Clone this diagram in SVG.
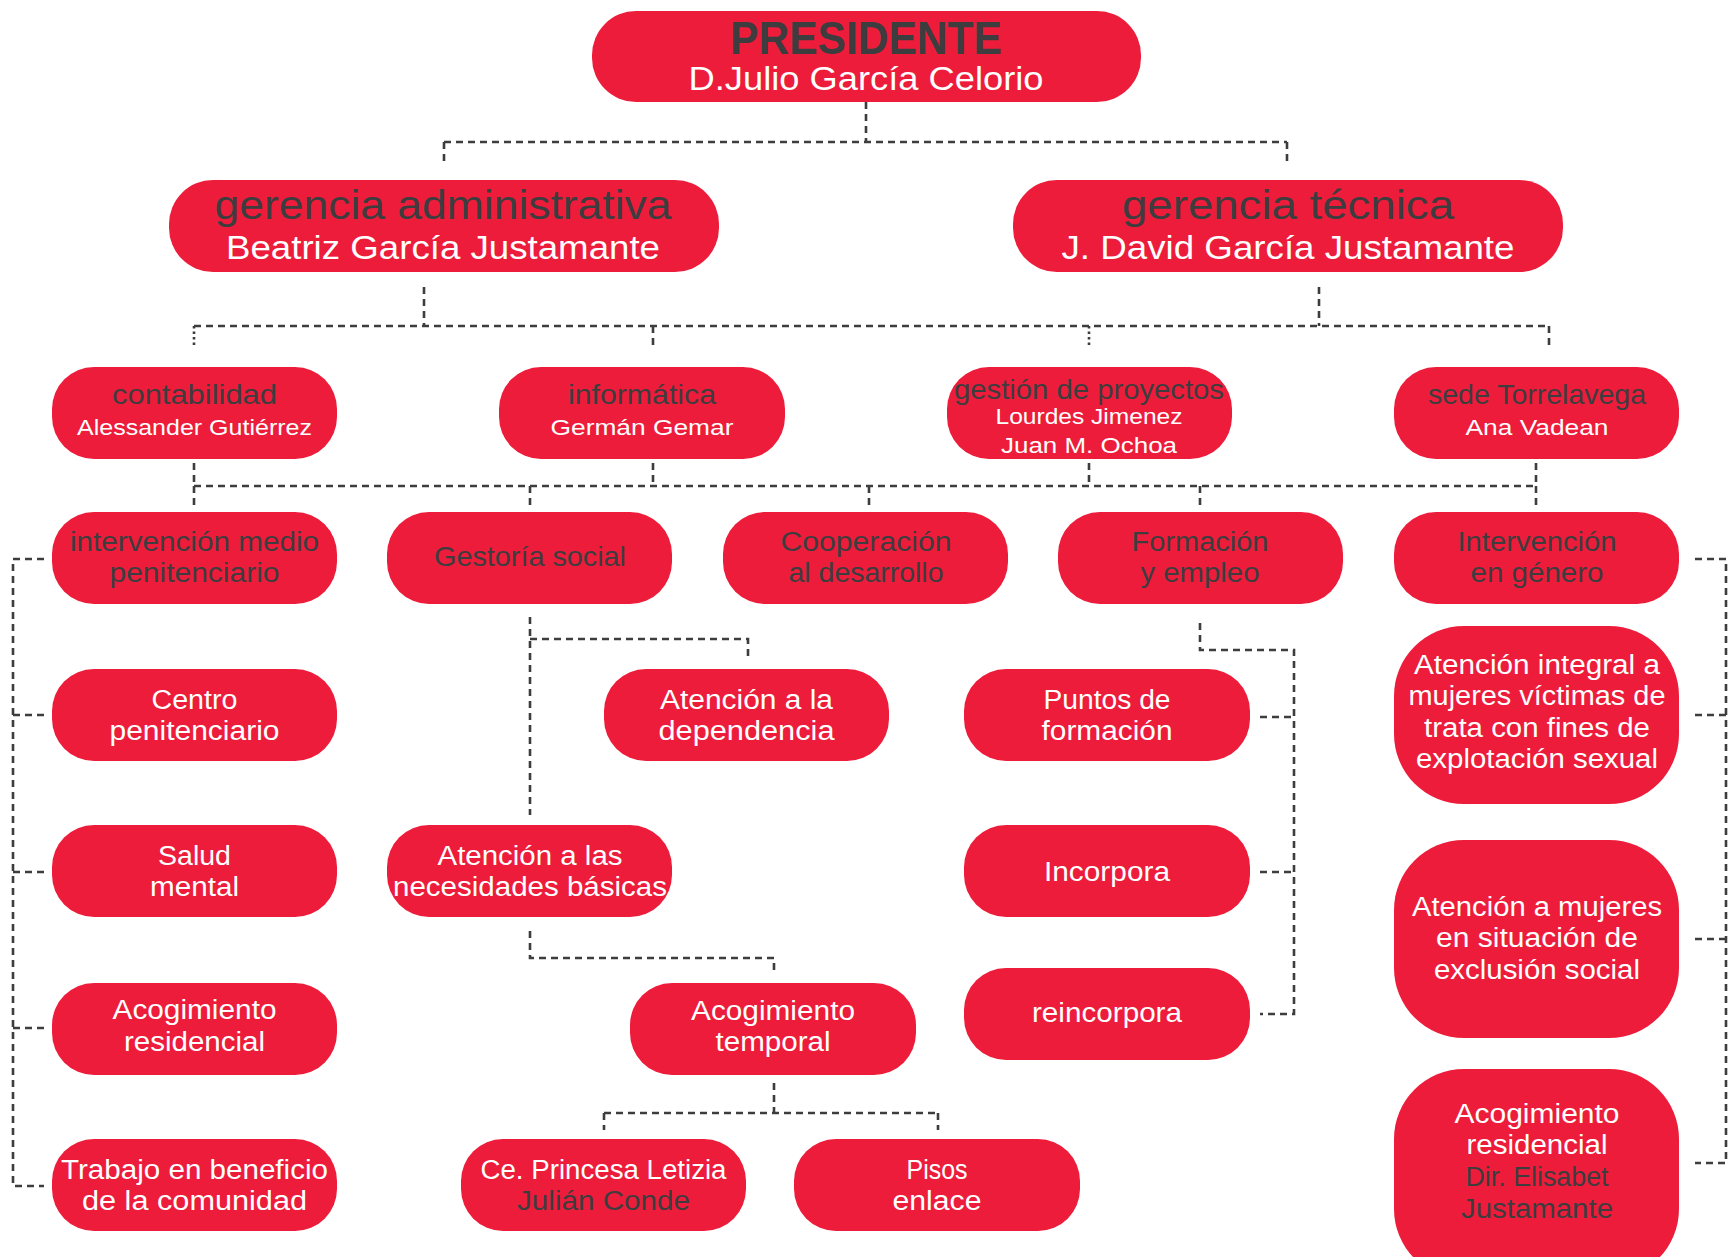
<svg xmlns="http://www.w3.org/2000/svg" width="1728" height="1257" viewBox="0 0 1728 1257">
<style>
.n{fill:#ED1C3A}
text{font-family:"Liberation Sans","Noto Sans",sans-serif;text-anchor:middle}
.d{fill:#3d3d3f}
.w{fill:#ffffff}
.c{fill:none;stroke:#3d3d3f;stroke-width:2.6;stroke-dasharray:7 5}
.c2{fill:none;stroke:#3d3d3f;stroke-width:2.6;stroke-dasharray:2.5 3}
</style>
<rect width="1728" height="1257" fill="#fff"/>
<g id="connectors">
<path class="c" d="M866 102V142M444 142H1287M444 142V165M1287 142V165"/>
<path class="c" d="M424 287V326M1319 287V326M194 326H1549M653 326V347M1549 326V347"/>
<path class="c2" d="M194 326V347M1089 326V347"/>
<path class="c" d="M194 463V486M653 463V486M1089 463V486M1536 463V486M194 486H1536M194 486V509M530 486V509M869 486V509M1200 486V509M1536 486V509"/>
<path class="c" d="M44 559H13V1186H44M13 715H44M13 872H44M13 1028H44"/>
<path class="c" d="M530 617V815M530 639H748V661M530 931V958H774V975M774 1083V1113M604 1113H938M604 1113V1130M938 1113V1130"/>
<path class="c" d="M1200 623V650H1294V1014H1260M1260 717H1294M1260 872H1294"/>
<path class="c" d="M1695 559H1726V1163H1695M1695 715H1726M1695 939H1726"/>
</g>
<g id="presidente"><rect class="n" x="592" y="11" width="549" height="91" rx="44"/>
<text class="d" x="866" y="54" font-size="47" font-weight="bold" textLength="272" lengthAdjust="spacingAndGlyphs">PRESIDENTE</text>
<text class="w" x="866" y="90" font-size="33" textLength="355" lengthAdjust="spacingAndGlyphs">D.Julio García Celorio</text></g>
<g id="gerencia-admin"><rect class="n" x="169" y="180" width="550" height="92" rx="44"/>
<text class="d" x="443" y="219" font-size="41" textLength="457" lengthAdjust="spacingAndGlyphs">gerencia administrativa</text>
<text class="w" x="443" y="259" font-size="34" textLength="434" lengthAdjust="spacingAndGlyphs">Beatriz García Justamante</text></g>
<g id="gerencia-tecnica"><rect class="n" x="1013" y="180" width="550" height="92" rx="44"/>
<text class="d" x="1288" y="219" font-size="41" textLength="332" lengthAdjust="spacingAndGlyphs">gerencia técnica</text>
<text class="w" x="1288" y="259" font-size="34" textLength="453" lengthAdjust="spacingAndGlyphs">J. David García Justamante</text></g>
<g id="contabilidad"><rect class="n" x="52" y="367" width="285" height="92" rx="42"/>
<text class="d" x="194.5" y="404" font-size="28" textLength="165" lengthAdjust="spacingAndGlyphs">contabilidad</text>
<text class="w" x="194.5" y="435" font-size="22" textLength="235" lengthAdjust="spacingAndGlyphs">Alessander Gutiérrez</text></g>
<g id="informatica"><rect class="n" x="499" y="367" width="286" height="92" rx="42"/>
<text class="d" x="642" y="404" font-size="28" textLength="148" lengthAdjust="spacingAndGlyphs">informática</text>
<text class="w" x="642" y="435" font-size="22" textLength="183" lengthAdjust="spacingAndGlyphs">Germán Gemar</text></g>
<g id="gestion-proyectos"><rect class="n" x="947" y="367" width="285" height="92" rx="42"/>
<text class="d" x="1089" y="399" font-size="28" textLength="270" lengthAdjust="spacingAndGlyphs">gestión de proyectos</text>
<text class="w" x="1089" y="424" font-size="22" textLength="187" lengthAdjust="spacingAndGlyphs">Lourdes Jimenez</text>
<text class="w" x="1089" y="453" font-size="22" textLength="176" lengthAdjust="spacingAndGlyphs">Juan M. Ochoa</text></g>
<g id="sede-torrelavega"><rect class="n" x="1394" y="367" width="285" height="92" rx="42"/>
<text class="d" x="1537" y="404" font-size="28" textLength="218" lengthAdjust="spacingAndGlyphs">sede Torrelavega</text>
<text class="w" x="1537" y="435" font-size="22" textLength="143" lengthAdjust="spacingAndGlyphs">Ana Vadean</text></g>
<g id="intervencion-medio"><rect class="n" x="52" y="512" width="285" height="92" rx="42"/>
<text class="d" x="194.5" y="551" font-size="27" textLength="249" lengthAdjust="spacingAndGlyphs">intervención medio</text>
<text class="d" x="194.5" y="582" font-size="27" textLength="170" lengthAdjust="spacingAndGlyphs">penitenciario</text></g>
<g id="gestoria-social"><rect class="n" x="387" y="512" width="285" height="92" rx="42"/>
<text class="d" x="530" y="566" font-size="28" textLength="192" lengthAdjust="spacingAndGlyphs">Gestoría social</text></g>
<g id="cooperacion"><rect class="n" x="723" y="512" width="285" height="92" rx="42"/>
<text class="d" x="866" y="551" font-size="27" textLength="171" lengthAdjust="spacingAndGlyphs">Cooperación</text>
<text class="d" x="866" y="582" font-size="27" textLength="155" lengthAdjust="spacingAndGlyphs">al desarrollo</text></g>
<g id="formacion-empleo"><rect class="n" x="1058" y="512" width="285" height="92" rx="42"/>
<text class="d" x="1200" y="551" font-size="27" textLength="137" lengthAdjust="spacingAndGlyphs">Formación</text>
<text class="d" x="1200" y="582" font-size="27" textLength="119" lengthAdjust="spacingAndGlyphs">y empleo</text></g>
<g id="intervencion-genero"><rect class="n" x="1394" y="512" width="285" height="92" rx="42"/>
<text class="d" x="1537" y="551" font-size="27" textLength="159" lengthAdjust="spacingAndGlyphs">Intervención</text>
<text class="d" x="1537" y="582" font-size="27" textLength="133" lengthAdjust="spacingAndGlyphs">en género</text></g>
<g id="centro-penitenciario"><rect class="n" x="52" y="669" width="285" height="92" rx="42"/>
<text class="w" x="194.5" y="709" font-size="27" textLength="86" lengthAdjust="spacingAndGlyphs">Centro</text>
<text class="w" x="194.5" y="740" font-size="27" textLength="170" lengthAdjust="spacingAndGlyphs">penitenciario</text></g>
<g id="salud-mental"><rect class="n" x="52" y="825" width="285" height="92" rx="42"/>
<text class="w" x="194.5" y="865" font-size="27" textLength="73" lengthAdjust="spacingAndGlyphs">Salud</text>
<text class="w" x="194.5" y="896" font-size="27" textLength="89" lengthAdjust="spacingAndGlyphs">mental</text></g>
<g id="acogimiento-residencial"><rect class="n" x="52" y="983" width="285" height="92" rx="42"/>
<text class="w" x="194.5" y="1019" font-size="27" textLength="164" lengthAdjust="spacingAndGlyphs">Acogimiento</text>
<text class="w" x="194.5" y="1051" font-size="27" textLength="141" lengthAdjust="spacingAndGlyphs">residencial</text></g>
<g id="trabajo-beneficio"><rect class="n" x="52" y="1139" width="285" height="92" rx="42"/>
<text class="w" x="194.5" y="1179" font-size="27" textLength="267" lengthAdjust="spacingAndGlyphs">Trabajo en beneficio</text>
<text class="w" x="194.5" y="1210" font-size="27" textLength="225" lengthAdjust="spacingAndGlyphs">de la comunidad</text></g>
<g id="atencion-dependencia"><rect class="n" x="604" y="669" width="285" height="92" rx="42"/>
<text class="w" x="746.5" y="709" font-size="27" textLength="173" lengthAdjust="spacingAndGlyphs">Atención a la</text>
<text class="w" x="746.5" y="740" font-size="27" textLength="176" lengthAdjust="spacingAndGlyphs">dependencia</text></g>
<g id="necesidades-basicas"><rect class="n" x="387" y="825" width="285" height="92" rx="42"/>
<text class="w" x="530" y="865" font-size="27" textLength="185" lengthAdjust="spacingAndGlyphs">Atención a las</text>
<text class="w" x="530" y="896" font-size="27" textLength="274" lengthAdjust="spacingAndGlyphs">necesidades básicas</text></g>
<g id="acogimiento-temporal"><rect class="n" x="630" y="983" width="286" height="92" rx="42"/>
<text class="w" x="773" y="1020" font-size="27" textLength="164" lengthAdjust="spacingAndGlyphs">Acogimiento</text>
<text class="w" x="773" y="1051" font-size="27" textLength="115" lengthAdjust="spacingAndGlyphs">temporal</text></g>
<g id="princesa-letizia"><rect class="n" x="461" y="1139" width="285" height="92" rx="42"/>
<text class="w" x="603.5" y="1179" font-size="27" textLength="246" lengthAdjust="spacingAndGlyphs">Ce. Princesa Letizia</text>
<text class="d" x="603.5" y="1210" font-size="27" textLength="173" lengthAdjust="spacingAndGlyphs">Julián Conde</text></g>
<g id="pisos-enlace"><rect class="n" x="794" y="1139" width="286" height="92" rx="42"/>
<text class="w" x="937" y="1179" font-size="27" textLength="61" lengthAdjust="spacingAndGlyphs">Pisos</text>
<text class="w" x="937" y="1210" font-size="27" textLength="89" lengthAdjust="spacingAndGlyphs">enlace</text></g>
<g id="puntos-formacion"><rect class="n" x="964" y="669" width="286" height="92" rx="42"/>
<text class="w" x="1107" y="709" font-size="27" textLength="127" lengthAdjust="spacingAndGlyphs">Puntos de</text>
<text class="w" x="1107" y="740" font-size="27" textLength="131" lengthAdjust="spacingAndGlyphs">formación</text></g>
<g id="incorpora"><rect class="n" x="964" y="825" width="286" height="92" rx="42"/>
<text class="w" x="1107" y="881" font-size="28" textLength="126" lengthAdjust="spacingAndGlyphs">Incorpora</text></g>
<g id="reincorpora"><rect class="n" x="964" y="968" width="286" height="92" rx="42"/>
<text class="w" x="1107" y="1022" font-size="28" textLength="150" lengthAdjust="spacingAndGlyphs">reincorpora</text></g>
<g id="atencion-integral"><rect class="n" x="1394" y="626" width="285" height="178" rx="70"/>
<text class="w" x="1537" y="674" font-size="27" textLength="246" lengthAdjust="spacingAndGlyphs">Atención integral a</text>
<text class="w" x="1537" y="705" font-size="27" textLength="257" lengthAdjust="spacingAndGlyphs">mujeres víctimas de</text>
<text class="w" x="1537" y="737" font-size="27" textLength="226" lengthAdjust="spacingAndGlyphs">trata con fines de</text>
<text class="w" x="1537" y="768" font-size="27" textLength="242" lengthAdjust="spacingAndGlyphs">explotación sexual</text></g>
<g id="atencion-exclusion"><rect class="n" x="1394" y="840" width="285" height="198" rx="70"/>
<text class="w" x="1537" y="916" font-size="27" textLength="250" lengthAdjust="spacingAndGlyphs">Atención a mujeres</text>
<text class="w" x="1537" y="947" font-size="27" textLength="202" lengthAdjust="spacingAndGlyphs">en situación de</text>
<text class="w" x="1537" y="979" font-size="27" textLength="206" lengthAdjust="spacingAndGlyphs">exclusión social</text></g>
<g id="acogimiento-dir"><rect class="n" x="1394" y="1069" width="285" height="210" rx="70"/>
<text class="w" x="1537" y="1123" font-size="27" textLength="165" lengthAdjust="spacingAndGlyphs">Acogimiento</text>
<text class="w" x="1537" y="1154" font-size="27" textLength="141" lengthAdjust="spacingAndGlyphs">residencial</text>
<text class="d" x="1537" y="1186" font-size="27" textLength="143" lengthAdjust="spacingAndGlyphs">Dir. Elisabet</text>
<text class="d" x="1537" y="1218" font-size="27" textLength="152" lengthAdjust="spacingAndGlyphs">Justamante</text></g>
</svg>
